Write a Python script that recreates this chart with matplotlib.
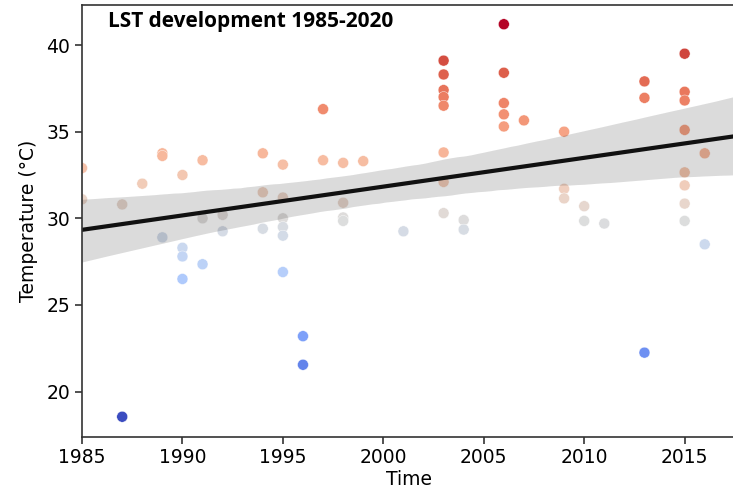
import numpy as np
import matplotlib
matplotlib.use("Agg")
import matplotlib.pyplot as plt
import seaborn as sns

# ---- data ----
years = [1985, 1985,
         1987, 1987,
         1988,
         1989, 1989, 1989,
         1990, 1990, 1990, 1990,
         1991, 1991, 1991,
         1992, 1992,
         1994, 1994, 1994,
         1995, 1995, 1995, 1995, 1995, 1995,
         1996, 1996,
         1997, 1997,
         1998, 1998, 1998, 1998,
         1999,
         2001,
         2003, 2003, 2003, 2003, 2003, 2003, 2003, 2003,
         2004, 2004,
         2006, 2006, 2006, 2006, 2006,
         2007,
         2009, 2009, 2009,
         2010, 2010,
         2011,
         2013, 2013, 2013,
         2015, 2015, 2015, 2015, 2015, 2015, 2015, 2015,
         2016, 2016]
temps = [32.9, 31.1,
         30.8, 18.55,
         32.0,
         33.75, 33.6, 28.9,
         32.5, 28.3, 27.8, 26.5,
         33.35, 30.0, 27.35,
         30.2, 29.25,
         33.75, 31.5, 29.4,
         33.1, 31.2, 30.0, 29.5, 29.0, 26.9,
         23.2, 21.55,
         36.3, 33.35,
         33.2, 30.9, 30.05, 29.85,
         33.3,
         29.25,
         39.1, 38.3, 37.4, 37.0, 36.5, 33.8, 32.1, 30.3,
         29.9, 29.35,
         41.2, 38.4, 36.65, 36.0, 35.3,
         35.65,
         35.0, 31.7, 31.15,
         30.7, 29.85,
         29.7,
         37.9, 36.95, 22.25,
         39.5, 37.3, 36.8, 35.1, 32.65, 31.9, 30.85, 29.85,
         33.75, 28.5]
xticks = [1985, 1990, 1995, 2000, 2005, 2010, 2015]
yticks = [20, 25, 30, 35, 40]
title = "LST development 1985-2020"

x = np.array(years, dtype=float)
y = np.array(temps, dtype=float)

fig = plt.figure(figsize=(7.33, 4.96), dpi=100)
ax = fig.add_axes([0.1119, 0.1196, 0.892, 0.870])

ax.scatter(x, y, c=y, cmap="coolwarm", vmin=y.min(), vmax=y.max(),
           s=62, edgecolors="white", linewidths=0.3, zorder=1)
ax.set_xlim(1985, 2017.55)
ax.set_ylim(17.4, 42.3)
sns.regplot(x=x, y=y, scatter=False, color="black", ci=95, truncate=False,
            line_kws={"lw": 3, "color": "#111111"}, ax=ax, seed=0)
ax.set_xlim(1985, 2017.55)
ax.set_ylim(17.4, 42.3)

ax.set_xticks(xticks)
ax.set_yticks(yticks)
ax.tick_params(labelsize=13.5, length=5, width=1.1, color="#222222")
for side in ["left", "bottom", "top", "right"]:
    ax.spines[side].set_color("#333333")
    ax.spines[side].set_linewidth(1.2)
ax.set_xlabel("Time", fontsize=13.5, labelpad=2)
ax.set_ylabel("Temperature (°C)", fontsize=13.5, labelpad=6)

fig.text(108 / 733, 1 - 21 / 496, title, fontsize=15, fontweight="bold",
         family=["Open Sans", "DejaVu Sans"], ha="left", va="center")

fig.savefig("out.png", dpi=100)
